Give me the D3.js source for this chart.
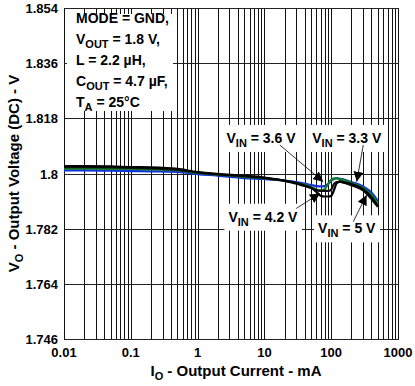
<!DOCTYPE html>
<html>
<head>
<meta charset="utf-8">
<script src="https://cdn.jsdelivr.net/npm/d3@7"></script>
<style>
  body { margin: 0; background: #fff; }
  text { font-family: "Liberation Sans", Arial, sans-serif; font-weight: bold; }
</style>
</head>
<body>
<div id="chart"></div>
<script>
// output current, mA
var current = [0.01, 0.02, 0.05, 0.1, 0.2, 0.5, 1, 2, 5, 10, 20, 30, 40, 50, 60, 70, 80, 90, 100, 110, 120, 135, 150, 200, 300, 400, 500];

// output voltage, V
var vin33 = [1.8010, 1.8010, 1.8009, 1.8008, 1.8007, 1.8005, 1.7998, 1.7993, 1.7985, 1.7982, 1.7977, 1.7972, 1.7967, 1.7962, 1.7959, 1.7958, 1.7959, 1.7966, 1.7976, 1.7982, 1.7985, 1.7983, 1.7981, 1.7972, 1.7958, 1.7938, 1.7910];
var vin36 = [1.8016, 1.8016, 1.8015, 1.8015, 1.8013, 1.8010, 1.8002, 1.7996, 1.7989, 1.7984, 1.7976, 1.7969, 1.7963, 1.7956, 1.7948, 1.7945, 1.7949, 1.7966, 1.7979, 1.7984, 1.7984, 1.7981, 1.7979, 1.7969, 1.7953, 1.7930, 1.7902];
var vin42 = [1.8024, 1.8024, 1.8023, 1.8021, 1.8020, 1.8015, 1.8005, 1.7999, 1.7993, 1.7987, 1.7977, 1.7969, 1.7961, 1.7953, 1.7940, 1.7927, 1.7925, 1.7925, 1.7927, 1.7946, 1.7967, 1.7974, 1.7972, 1.7966, 1.7949, 1.7923, 1.7894];
var vin50 = [1.8021, 1.8021, 1.8020, 1.8018, 1.8017, 1.8012, 1.8003, 1.7997, 1.7991, 1.7985, 1.7976, 1.7967, 1.7959, 1.7953, 1.7946, 1.7943, 1.7943, 1.7943, 1.7948, 1.7966, 1.7972, 1.7973, 1.7971, 1.7962, 1.7945, 1.7917, 1.7891];

var xTicks = [0.01, 0.1, 1, 10, 100, 1000];
var xTickLabels = ["0.01", "0.1", "1", "10", "100", "1000"];
var yTicks = [1.746, 1.764, 1.782, 1.8, 1.818, 1.836, 1.854];
var yTickLabels = ["1.746", "1.764", "1.782", "1.8", "1.818", "1.836", "1.854"];

var series = [
  { name: "3.3", values: vin33, color: "#1030e0" },
  { name: "3.6", values: vin36, color: "#108020" },
  { name: "5", values: vin50, color: "#111" },
  { name: "4.2", values: vin42, color: "#000" }
];

// annotations: label centre (I, V), arrow tail and tip
var notes = [
  { main: "3.6", lx: 8.9, ly: 1.8116, tail: [17, 1.8093], tip: [76, 1.7973] },
  { main: "3.3", lx: 171, ly: 1.8116, tail: [302, 1.8093], tip: [241, 1.7973] },
  { main: "4.2", lx: 9.5, ly: 1.7859, tail: [30, 1.7886], tip: [68, 1.7935] },
  { main: "5", lx: 171, ly: 1.7821, tail: [214, 1.7843], tip: [339, 1.7930] }
];

var width = 415, height = 386;
var mLeft = 64, mRight = 398, mTop = 8, mBottom = 339;

var svg = d3.select("#chart").append("svg")
  .attr("width", width)
  .attr("height", height);

var defs = svg.append("defs");
defs.append("marker")
  .attr("id", "arrow")
  .attr("viewBox", "0 0 10 10")
  .attr("refX", 10).attr("refY", 5)
  .attr("markerWidth", 10).attr("markerHeight", 10)
  .attr("markerUnits", "userSpaceOnUse")
  .attr("orient", "auto")
  .append("path")
  .attr("d", "M0,0 L10,5 L0,10 z")
  .attr("fill", "#000");

var x = d3.scaleLog().domain([0.01, 1000]).range([mLeft, mRight]);
var y = d3.scaleLinear().domain([1.746, 1.854]).range([mBottom, mTop]);

// vertical log grid
var minor = [];
for (var e = -2; e < 3; e++) {
  for (var m = 1; m <= 9; m++) minor.push(m * Math.pow(10, e));
}
minor.push(1000);

var grid = svg.append("g").attr("shape-rendering", "crispEdges");
grid.selectAll(".vgrid")
  .data(minor)
  .enter().append("line")
  .attr("class", "vgrid")
  .attr("x1", d => Math.round(x(d)) + 0.5)
  .attr("x2", d => Math.round(x(d)) + 0.5)
  .attr("y1", mTop).attr("y2", mBottom)
  .attr("stroke", "#111").attr("stroke-width", 1);

grid.selectAll(".hgrid")
  .data(yTicks)
  .enter().append("line")
  .attr("class", "hgrid")
  .attr("x1", mLeft).attr("x2", Math.round(x(1000)) + 1)
  .attr("y1", d => Math.round(y(d)) + 0.5)
  .attr("y2", d => Math.round(y(d)) + 0.5)
  .attr("stroke", "#222").attr("stroke-width", 1);

// tick labels
svg.append("g").selectAll("text")
  .data(yTicks)
  .enter().append("text")
  .attr("x", mLeft - 6)
  .attr("y", d => y(d) + 5)
  .attr("text-anchor", "end")
  .attr("font-size", "13px")
  .text((d, i) => yTickLabels[i]);

svg.append("g").selectAll("text")
  .data(xTicks)
  .enter().append("text")
  .attr("x", d => x(d))
  .attr("y", mBottom + 18)
  .attr("text-anchor", "middle")
  .attr("font-size", "13px")
  .text((d, i) => xTickLabels[i]);

// axis titles
var xt = svg.append("text")
  .attr("x", 236).attr("y", 376)
  .attr("text-anchor", "middle")
  .attr("font-size", "15px");
xt.append("tspan").text("I");
xt.append("tspan").attr("font-size", "11px").attr("dy", 4).text("O");
xt.append("tspan").attr("dy", -4).text(" - Output Current - mA");

var yt = svg.append("text")
  .attr("transform", "translate(19," + ((mTop + mBottom) / 2) + ") rotate(-90)")
  .attr("text-anchor", "middle")
  .attr("font-size", "15px");
yt.append("tspan").text("V");
yt.append("tspan").attr("font-size", "11px").attr("dy", 4).text("O");
yt.append("tspan").attr("dy", -4).text(" - Output Voltage (DC) - V");

// conditions box
svg.append("rect")
  .attr("x", mLeft + 3).attr("y", mTop + 6)
  .attr("width", 106).attr("height", 97)
  .attr("fill", "#fff");

var cond = [
  [["MODE = GND,", 0]],
  [["V", 0], ["OUT", 1], [" = 1.8 V,", 0]],
  [["L = 2.2 \u00b5H,", 0]],
  [["C", 0], ["OUT", 1], [" = 4.7 \u00b5F,", 0]],
  [["T", 0], ["A", 1], [" = 25\u00b0C", 0]]
];
cond.forEach(function (parts, i) {
  var t = svg.append("text")
    .attr("x", mLeft + 12)
    .attr("y", mTop + 15 + i * 21)
    .attr("font-size", "14px");
  var sub = false;
  parts.forEach(function (p) {
    var s = t.append("tspan").text(p[0]);
    if (p[1] && !sub) { s.attr("font-size", "11px").attr("dy", 4); sub = true; }
    else if (!p[1] && sub) { s.attr("dy", -4); sub = false; }
  });
});

// curves
var line = d3.line()
  .x((d, i) => x(current[i]))
  .y(d => y(d))
  .curve(d3.curveMonotoneX);

svg.append("g").selectAll("path")
  .data(series)
  .enter().append("path")
  .attr("d", d => line(d.values))
  .attr("fill", "none")
  .attr("stroke", d => d.color)
  .attr("stroke-width", 2.2)
  .attr("stroke-linejoin", "round");

// annotations
notes.forEach(function (n) {
  var t = svg.append("text")
    .attr("x", x(n.lx))
    .attr("y", y(n.ly) + 5)
    .attr("text-anchor", "middle")
    .attr("font-size", "14px");
  t.append("tspan").text("V");
  t.append("tspan").attr("font-size", "11px").attr("dy", 4).text("IN");
  t.append("tspan").attr("dy", -4).text(" = " + n.main + " V");
  var b = t.node().getBBox();
  svg.insert("rect", () => t.node())
    .attr("x", b.x - 4).attr("y", b.y - 5)
    .attr("width", b.width + 8).attr("height", b.height + 8)
    .attr("fill", "#fff");
  svg.append("line")
    .attr("x1", x(n.tail[0])).attr("y1", y(n.tail[1]))
    .attr("x2", x(n.tip[0])).attr("y2", y(n.tip[1]))
    .attr("stroke", "#000").attr("stroke-width", 0.8)
    .attr("marker-end", "url(#arrow)");
});
</script>
</body>
</html>
